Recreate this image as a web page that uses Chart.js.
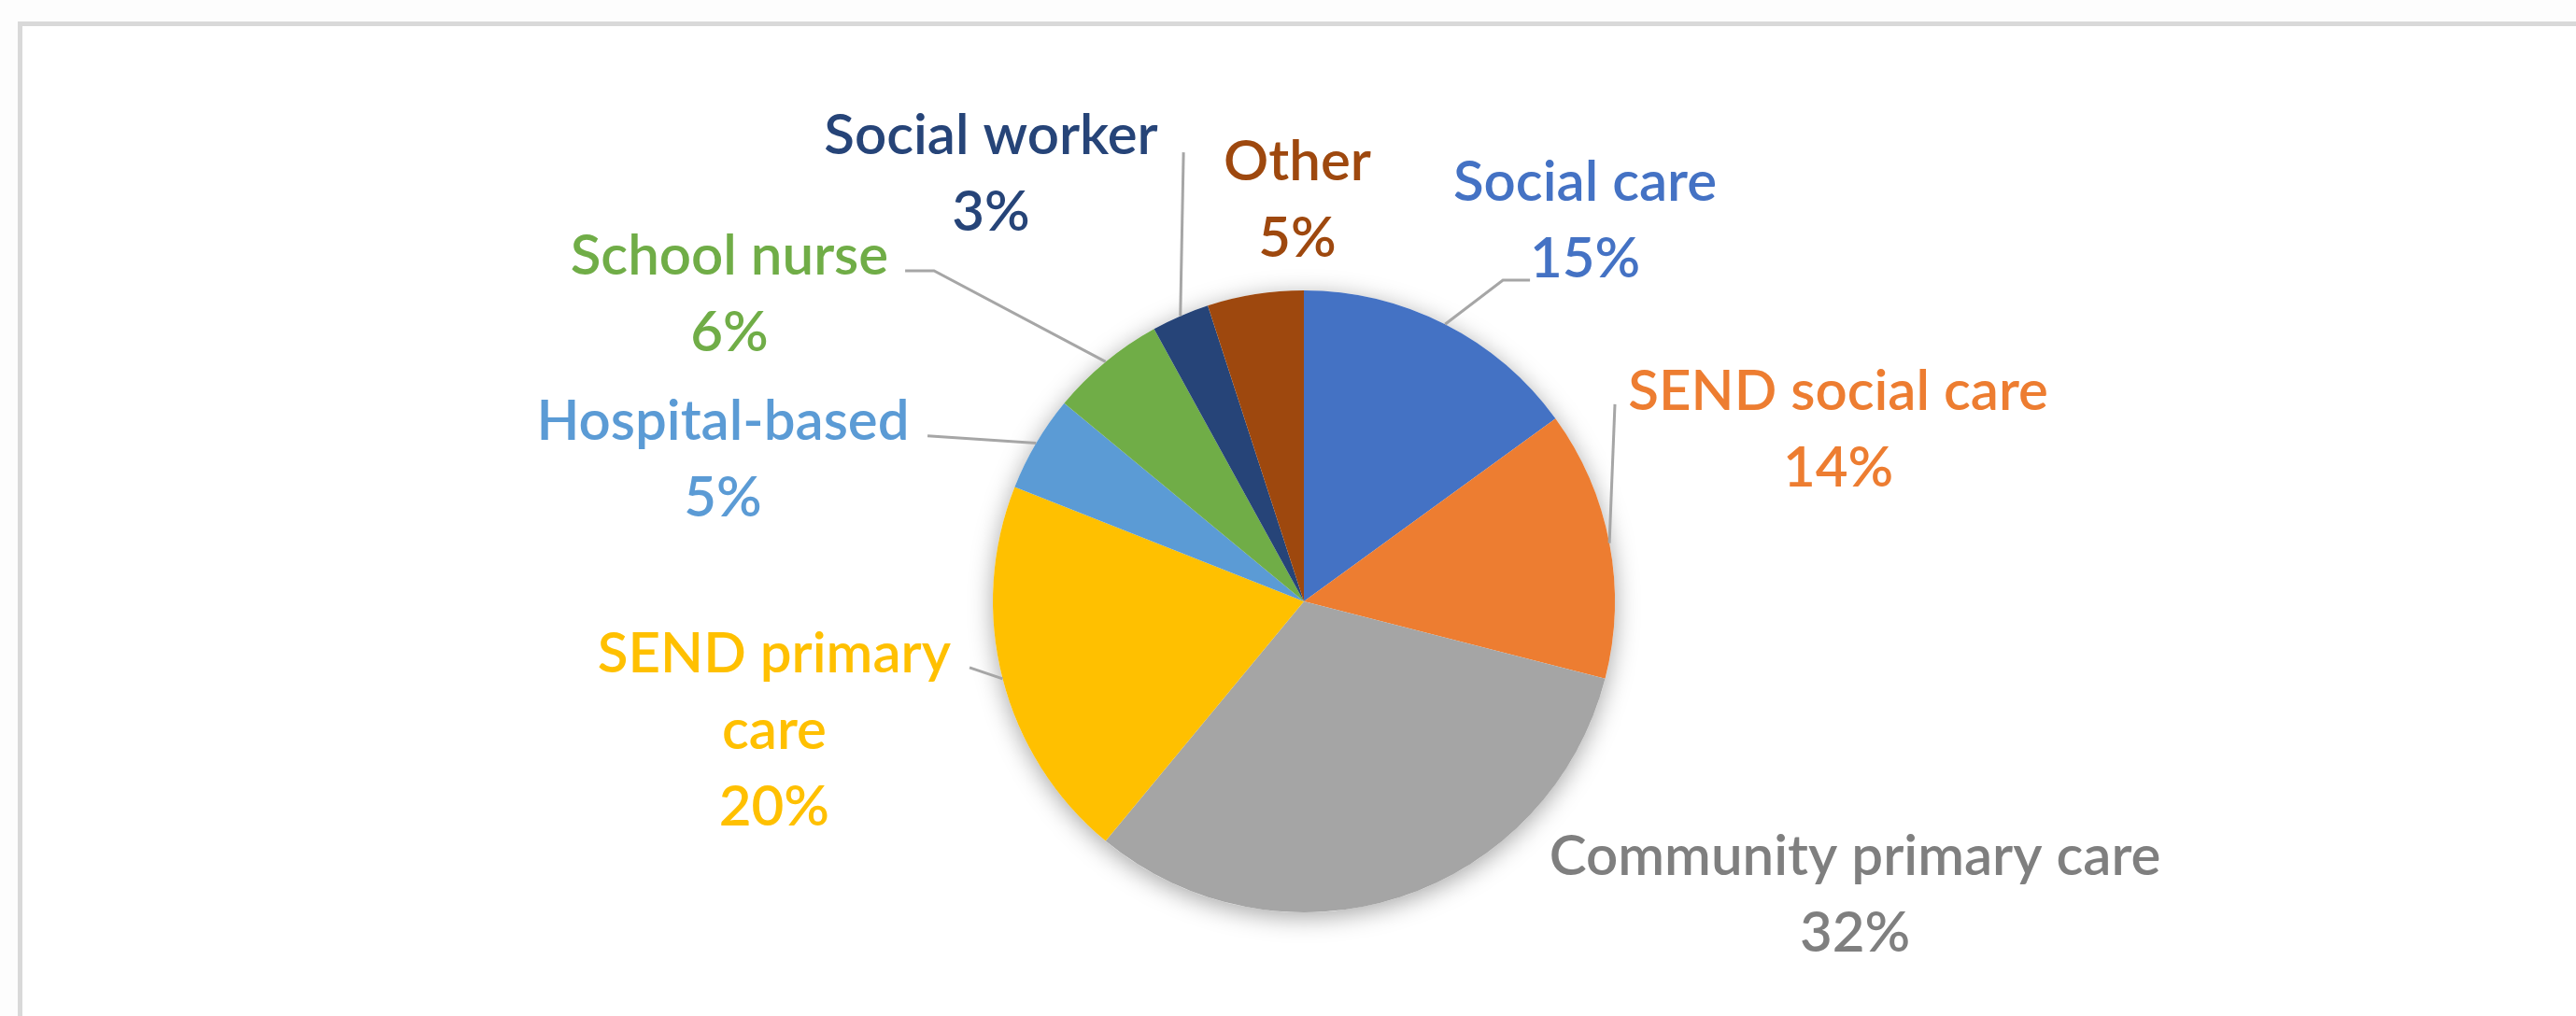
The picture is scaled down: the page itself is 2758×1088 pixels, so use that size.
<!DOCTYPE html>
<html>
<head>
<meta charset="utf-8">
<script src="https://cdn.jsdelivr.net/npm/chart.js@4.4.1/dist/chart.umd.min.js"></script>
<style>
html, body { margin: 0; padding: 0; background: #fdfdfd; }
#frame { position: absolute; left: 19px; top: 23px; width: 2760px; height: 1090px; border: 5px solid #d9d9d9; background: #fff; }
#referralChart { position: absolute; left: 0; top: 0; }
</style>
</head>
<body>
<div id="frame"></div>
<canvas id="referralChart" width="2758" height="1088"></canvas>
<script>
// data, clockwise from 12 o'clock
const categories = ['Social care', 'SEND social care', 'Community primary care', 'SEND primary care',
                    'Hospital-based', 'School nurse', 'Social worker', 'Other'];
const shares = [15, 14, 32, 20, 5, 6, 3, 5];

const sliceColours = ['#4472c4', '#ed7d31', '#a5a5a5', '#ffc000', '#5b9bd5', '#70ad47', '#264478', '#9e480e'];
const textColours  = ['#4472c4', '#ed7d31', '#7f7f7f', '#ffc000', '#5b9bd5', '#70ad47', '#264478', '#9e480e'];

// label layout, in pie radii relative to the centre
const labelWrap = [null, null, null, ['SEND primary', 'care'], null, null, null, null];
const labelPos = [
    [0.904, -1.23], [1.718, -0.556], [1.772, 0.937], [-1.703, 0.411],
    [-1.868, -0.462], [-1.847, -0.994], [-1.006, -1.381], [-0.021, -1.297]
];
// leader line bends, also in radii; the line ends on the slice's mid angle
const leaderBends = [
    [[0.727, -1.033], [0.640, -1.033]],
    [[1.0, -0.634]],
    [],
    [[-1.075, 0.213]],
    [[-1.21, -0.532]],
    [[-1.282, -1.063], [-1.189, -1.063]],
    [[-0.387, -1.444]],
    []
];

const FONT_PX = 60;
const LINE_PX = 82;

const pieShadow = {
    id: 'pieShadow',
    beforeDatasetsDraw(chart) {
        const arc = chart.getDatasetMeta(0).data[0];
        if (!arc) return;
        const ctx = chart.ctx;
        ctx.save();
        ctx.shadowColor = 'rgba(0,0,0,0.35)';
        ctx.shadowBlur = 26;
        ctx.shadowOffsetY = 5;
        ctx.fillStyle = '#ffffff';
        ctx.beginPath();
        ctx.arc(arc.x, arc.y, arc.outerRadius, 0, Math.PI * 2);
        ctx.fill();
        ctx.restore();
    }
};

const sliceLabels = {
    id: 'sliceLabels',
    afterDatasetsDraw(chart) {
        const ctx = chart.ctx;
        const arcs = chart.getDatasetMeta(0).data;
        arcs.forEach((arc, i) => {
            const R = arc.outerRadius;
            const mid = (arc.startAngle + arc.endAngle) / 2;
            const bends = leaderBends[i];
            if (bends.length) {
                ctx.save();
                ctx.strokeStyle = '#a6a6a6';
                ctx.lineWidth = 3;
                ctx.beginPath();
                bends.forEach((b, k) => {
                    const px = arc.x + b[0] * R, py = arc.y + b[1] * R;
                    if (k === 0) ctx.moveTo(px, py); else ctx.lineTo(px, py);
                });
                ctx.lineTo(arc.x + Math.cos(mid) * R, arc.y + Math.sin(mid) * R);
                ctx.stroke();
                ctx.restore();
            }

            const lines = (labelWrap[i] || [categories[i]]).concat([shares[i] + '%']);
            const cx = arc.x + labelPos[i][0] * R;
            const cy = arc.y + labelPos[i][1] * R;
            ctx.save();
            ctx.fillStyle = textColours[i];
            ctx.font = '600 ' + FONT_PX + 'px Lato, "Open Sans", sans-serif';
            ctx.textAlign = 'center';
            ctx.textBaseline = 'alphabetic';
            lines.forEach((t, k) => {
                const lineMid = cy + (k - (lines.length - 1) / 2) * LINE_PX;
                ctx.fillText(t, cx, lineMid + FONT_PX * 0.36);
            });
            ctx.restore();
        });
    }
};

new Chart(document.getElementById('referralChart'), {
    type: 'pie',
    data: {
        labels: categories,
        datasets: [{
            data: shares,
            backgroundColor: sliceColours,
            borderWidth: 0
        }]
    },
    options: {
        responsive: false,
        devicePixelRatio: 1,
        animation: false,
        layout: { padding: { left: 1063, right: 1029, top: 311, bottom: 111 } },
        plugins: {
            legend: { display: false },
            tooltip: { enabled: false }
        }
    },
    plugins: [pieShadow, sliceLabels]
});
</script>
</body>
</html>
